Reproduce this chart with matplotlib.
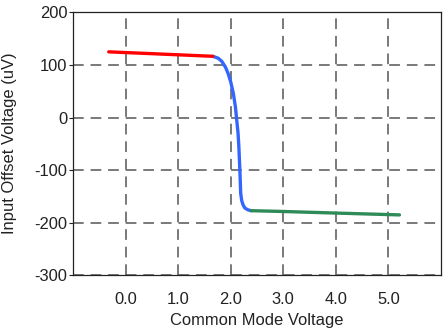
import matplotlib
matplotlib.use("Agg")
import matplotlib.pyplot as plt

# Data
red_x = [-0.32, 0.5, 1.2, 1.66]
red_y = [125, 121.5, 118.5, 116.5]

blue_x = [1.66, 1.76, 1.83, 1.9, 1.95, 2.0, 2.05, 2.09, 2.11, 2.14, 2.155, 2.17, 2.18, 2.19, 2.21, 2.235, 2.27, 2.33, 2.39]
blue_y = [116.5, 113, 107, 96, 84, 68, 46, 20, 0, -30, -55, -90, -115, -144, -158, -166, -172, -175.5, -177]

green_x = [2.39, 3.0, 4.0, 5.21]
green_y = [-177, -178.5, -181.5, -185]

xticks = [0, 1, 2, 3, 4, 5]
xticklabels = ["0.0", "1.0", "2.0", "3.0", "4.0", "5.0"]
yticks = [-300, -200, -100, 0, 100, 200]

plt.rcParams['font.family'] = ['Liberation Sans', 'DejaVu Sans']
plt.rcParams['axes.unicode_minus'] = False

fs = 11.9
tc = '#222222'

fig = plt.figure(figsize=(4.44, 3.32), dpi=100)
ax = fig.add_axes([0.1644, 0.1705, 0.8288, 0.7922])

lw = 2.4
ax.plot(blue_x, blue_y, color='#3366ff', lw=lw, solid_capstyle='round', solid_joinstyle='round', zorder=3)
ax.plot(red_x, red_y, color='#ff0000', lw=lw, solid_capstyle='round', zorder=4)
ax.plot(green_x, green_y, color='#2e8b57', lw=lw, solid_capstyle='round', zorder=4)

ax.set_xlim(-1, 6)
ax.set_ylim(-300, 200)
ax.set_xticks(xticks)
ax.set_xticklabels(xticklabels)
ax.set_yticks(yticks)

ax.grid(True, color='#555555', linestyle=(0, (7, 4.5)), linewidth=1.1)
ax.set_axisbelow(True)

ax.tick_params(axis='x', length=0, pad=11.8, labelsize=fs, colors=tc)
ax.tick_params(axis='y', length=3.0, width=0.8, pad=1.0, labelsize=fs, colors=tc)
for s in ax.spines.values():
    s.set_linewidth(0.9)
    s.set_color(tc)

# axis labels placed by figure-pixel position
W, H = 444.0, 332.0
ax.set_xlabel("Common Mode Voltage", fontsize=fs, color=tc, va='center', ha='center')
ax.xaxis.set_label_coords(256.5 / W, 1 - 320.5 / H, transform=fig.transFigure)
ax.set_ylabel("Input Offset Voltage (uV)", fontsize=fs, color=tc, va='center', ha='center')
ax.yaxis.set_label_coords(9.5 / W, 1 - 143.5 / H, transform=fig.transFigure)

fig.savefig("out.png", dpi=100)
